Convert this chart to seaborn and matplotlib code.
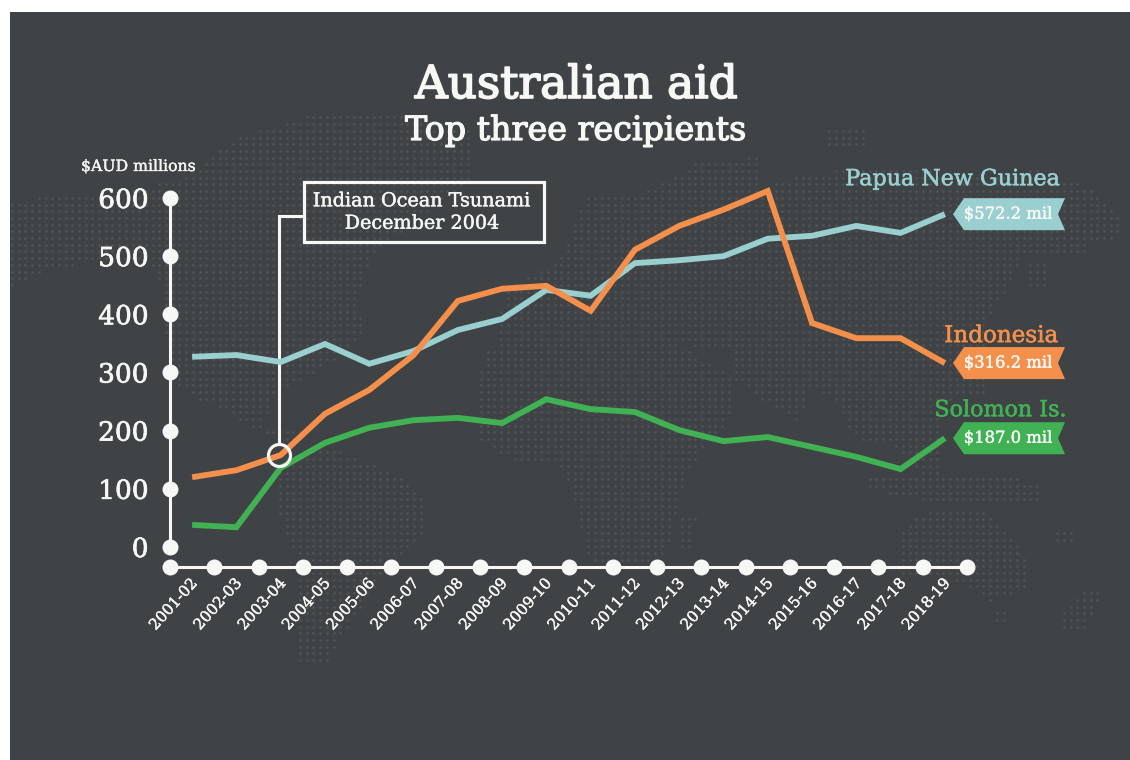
import matplotlib
matplotlib.use("Agg")
import matplotlib.pyplot as plt
import matplotlib.patheffects as pe
from matplotlib.patches import Rectangle, Polygon, Circle
from matplotlib.path import Path
from matplotlib.transforms import ScaledTranslation
import numpy as np
import pandas as pd
import seaborn as sns

years = ["2001-02", "2002-03", "2003-04", "2004-05", "2005-06", "2006-07",
         "2007-08", "2008-09", "2009-10", "2010-11", "2011-12", "2012-13",
         "2013-14", "2014-15", "2015-16", "2016-17", "2017-18", "2018-19"]
png = [327, 330, 318, 349, 315, 337, 373, 392, 442, 432, 488, 493, 500, 530, 535, 552, 540, 572.2]
indonesia = [120, 132, 158, 229, 270, 330, 423, 444, 449, 406, 511, 552, 580, 612, 385, 359, 359, 316.2]
solomon = [38, 34, 136, 179, 205, 218, 222, 213, 254, 237, 232, 201, 182, 189, 172, 155, 134, 187.0]
y_ticks = [0, 100, 200, 300, 400, 500, 600]

W, H = 1130, 760
BG = "#404346"
DOT = "#515457"
TEAL = "#9acfcf"
ORANGE = "#f5904c"
GREEN = "#40b254"
INK = "#f7f7f5"
SERIF = "DejaVu Serif"

sns.set_theme(style="white")
plt.rcParams["font.family"] = [SERIF, "DejaVu Sans"]
plt.rcParams["lines.solid_joinstyle"] = "miter"
plt.rcParams["lines.solid_capstyle"] = "butt"


def thicken(text, colour, width=0.45):
    # Adds a hairline outline so the regular cut reads as a medium weight
    text.set_path_effects([pe.withStroke(linewidth=width, foreground=colour)])
    return text


fig = plt.figure(figsize=(W / 100, H / 100), dpi=100, facecolor="white")

# Backdrop layer works in pixel units with the origin at the top left
deco = fig.add_axes([0, 0, 1, 1], zorder=0)
deco.set_xlim(0, W)
deco.set_ylim(H, 0)
deco.axis("off")
deco.add_patch(Rectangle((10, 12), W - 10, H - 12, color=BG, lw=0))

# Rough continents rendered as a halftone dot pattern
continents = [
    [(12, 200), (64, 195), (130, 190), (178, 180), (242, 135), (320, 113), (400, 112), (474, 130),
     (474, 177), (430, 210), (375, 250), (355, 300), (367, 333), (320, 370), (270, 395), (265, 430),
     (306, 430), (306, 445), (255, 430), (225, 410), (190, 395), (178, 385), (165, 330), (160, 280),
     (150, 260), (95, 262), (45, 270), (12, 285)],
    [(281, 455), (340, 450), (405, 480), (428, 500), (420, 540), (385, 570), (365, 600), (340, 640),
     (328, 665), (299, 665), (295, 610), (300, 570), (281, 520), (276, 490)],
    [(495, 345), (505, 290), (560, 260), (585, 197), (636, 197), (702, 160), (756, 157), (760, 190),
     (807, 173), (900, 165), (960, 175), (1040, 170), (1084, 185), (1124, 220), (1124, 235),
     (1084, 245), (1084, 255), (1025, 255), (1000, 300), (985, 320), (985, 395), (942, 400),
     (942, 480), (915, 470), (887, 443), (860, 443), (833, 400), (807, 385), (800, 423), (756, 395),
     (735, 380), (735, 350), (640, 340), (560, 350)],
    [(485, 350), (560, 345), (680, 345), (735, 380), (735, 410), (687, 470), (669, 540), (660, 562),
     (590, 562), (575, 500), (560, 463), (510, 460), (481, 440), (475, 395)],
    [(869, 473), (1040, 480), (1040, 503), (940, 503), (869, 490)],
    [(898, 530), (930, 510), (985, 510), (1025, 555), (1025, 590), (990, 600), (955, 580), (903, 575)],
    [(676, 513), (698, 513), (690, 550), (676, 550)],
    [(1062, 615), (1088, 587), (1102, 590), (1085, 627), (1062, 627)],
    [(1029, 263), (1047, 263), (1047, 290), (1029, 290)],
    [(1054, 530), (1076, 530), (1076, 545), (1054, 545)],
    [(996, 610), (1007, 610), (1007, 620), (996, 620)],
    [(829, 127), (869, 127), (869, 147), (829, 147)],
]
gx, gy = np.meshgrid(np.arange(12, W, 6.7), np.arange(104, 680, 6.7))
grid = np.column_stack([gx.ravel(), gy.ravel()])
land = np.zeros(len(grid), dtype=bool)
for outline in continents:
    land |= Path(outline).contains_points(grid)
deco.scatter(grid[land, 0], grid[land, 1], s=3.6, color=DOT, linewidths=0)

# Chart axes: the left spine sits on the first x dot, the top edge on the 600 gridline
ax = fig.add_axes([170 / W, (H - 567) / H, 797 / W, 369 / H], zorder=1)
ax.patch.set_alpha(0)
frame = pd.DataFrame({
    "year": years * 3,
    "x": list(range(len(years))) * 3,
    "aid": png + indonesia + solomon,
    "recipient": ["Papua New Guinea"] * len(years) + ["Indonesia"] * len(years) + ["Solomon Is."] * len(years),
})
palette = {"Papua New Guinea": TEAL, "Indonesia": ORANGE, "Solomon Is.": GREEN}
sns.lineplot(data=frame, x="x", y="aid", hue="recipient", palette=palette, linewidth=4.2,
             legend=False, ax=ax, errorbar=None)
for line in ax.get_lines():
    line.set_clip_on(False)

ax.set_xlim(-0.5, 17.5)
ax.set_ylim(-34.4, 600)
ax.set_xlabel("")
ax.set_ylabel("")
for side in ("top", "right"):
    ax.spines[side].set_visible(False)
for side in ("left", "bottom"):
    ax.spines[side].set_color(INK)
    ax.spines[side].set_linewidth(2.2)
ax.spines["left"].set_bounds(0, 600)

# Axis ticks drawn as large round beads
ax.set_yticks(y_ticks)
ax.set_xticks(np.arange(-0.5, 18, 1))
ax.set_xticks(range(len(years)), minor=True)
ax.set_xticklabels([])
ax.set_xticklabels(years, minor=True)
ax.tick_params(axis="y", which="major", left=True, length=0, pad=15.5, labelsize=19, labelcolor=INK)
ax.tick_params(axis="x", which="major", bottom=True, length=0)
ax.tick_params(axis="x", which="minor", length=0, pad=10, labelsize=11, labelcolor=INK, bottom=False)
for tick in ax.yaxis.get_major_ticks() + ax.xaxis.get_major_ticks():
    tick.tick1line.set_marker("o")
    tick.tick1line.set_markersize(11.5)
    tick.tick1line.set_markerfacecolor(INK)
    tick.tick1line.set_markeredgewidth(0)
shift = ScaledTranslation(3 / 100, 0, fig.dpi_scale_trans)
for label in ax.get_xticklabels(minor=True):
    label.set_rotation(48)
    label.set_ha("right")
    label.set_va("center")
    label.set_rotation_mode("anchor")
    label.set_transform(label.get_transform() + shift)
    thicken(label, INK, 0.3)
for label in ax.get_yticklabels():
    thicken(label, INK, 0.5)

# Titles and unit note
thicken(deco.text(576, 98, "Australian aid", ha="center", va="baseline", fontsize=32.7, color=INK), INK, 1.2)
thicken(deco.text(576, 140, "Top three recipients", ha="center", va="baseline", fontsize=24, color=INK), INK, 0.9)
thicken(deco.text(81, 171, "$AUD millions", ha="left", va="baseline", fontsize=11.3, color=INK), INK, 0.25)

# Tsunami callout
deco.add_patch(Rectangle((304, 182), 240, 60, fill=False, ec=INK, lw=2.3, zorder=3))
deco.plot([304, 279, 279], [216, 216, 444], color=INK, lw=2.2, zorder=3, solid_joinstyle="miter")
thicken(deco.text(422, 212.5, "Indian Ocean Tsunami\nDecember 2004", ha="center", va="center", fontsize=13.8,
                  color=INK, linespacing=1.32, zorder=3), INK, 0.3)
callout = fig.add_axes([0, 0, 1, 1], zorder=2)
callout.set_xlim(0, W)
callout.set_ylim(H, 0)
callout.axis("off")
callout.add_patch(Circle((279.5, 455.5), 11, fill=False, ec=INK, lw=2.3))

# Flag-shaped value tags at the end of each series
name_offsets = {"Papua New Guinea": (1060, -35), "Indonesia": (1058, -27), "Solomon Is.": (1067, -28)}
name_sizes = {"Papua New Guinea": 16, "Indonesia": 16.6, "Solomon Is.": 16}
series = {"Papua New Guinea": png, "Indonesia": indonesia, "Solomon Is.": solomon}
for name, values in series.items():
    last = values[-1]
    _, cy = callout.transData.inverted().transform(ax.transData.transform((len(years) - 1, last)))
    outline = [(953, cy), (964, cy - 16), (1065, cy - 16), (1058, cy), (1065, cy + 16), (964, cy + 16)]
    callout.add_patch(Polygon(outline, closed=True, color=palette[name], lw=0))
    thicken(callout.text(1008, cy, f"${last:.1f} mil", ha="center", va="center", fontsize=11.8, color=INK), INK, 0.3)
    right, dy = name_offsets[name]
    thicken(callout.text(right, cy + dy, name, ha="right", va="center", fontsize=name_sizes[name],
                         color=palette[name]), palette[name], 0.4)

fig.savefig("out.png", dpi=100, facecolor="white")
